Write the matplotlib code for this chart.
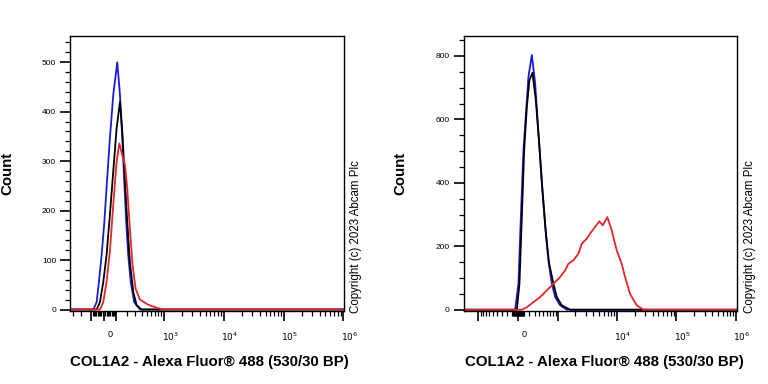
import matplotlib
matplotlib.use("Agg")
import matplotlib.pyplot as plt
from matplotlib.transforms import ScaledTranslation

plt.rcParams['font.family'] = ['Liberation Sans', 'DejaVu Sans']

# ---- left panel: fluorescence (x) vs count (y)
left_blue_x = [-342, -84, -57, -39, -18, 3, 23, 46, 73, 107, 131, 153, 173, 193, 215, 244, 288, 374, 1.02e6]
left_blue_y = [0, 0, 15, 56, 110, 177, 258, 346, 434, 500, 434, 346, 258, 177, 110, 56, 15, 0, 0]
left_black_x = [-342, -57, -31, -5, 20, 46, 73, 101, 131, 153, 180, 204, 234, 276, 322, 401, 1.02e6]
left_black_y = [0, 0, 15, 56, 110, 191, 279, 366, 420, 360, 258, 177, 96, 36, 9, 0, 0]
left_red_x = [-342, -31, -5, 20, 46, 73, 101, 125, 153, 180, 204, 234, 267, 308, 374, 523, 723, 953, 1.02e6]
left_red_y = [0, 0, 15, 56, 117, 211, 299, 336, 312, 292, 245, 164, 90, 42, 20, 10, 4, 0, 0]

# ---- right panel
right_blue_x = [-1810, -52, 5, 46, 92, 140, 182, 246, 313, 386, 467, 556, 645, 756, 874, 1079, 1419, 1.04e6]
right_blue_y = [0, 0, 82, 292, 503, 630, 735, 803, 714, 556, 398, 261, 156, 82, 40, 14, 0, 0]
right_black_x = [-1810, -23, 22, 63, 104, 152, 200, 258, 327, 402, 481, 573, 669, 813, 937, 1158, 1625, 1.04e6]
right_black_y = [0, 0, 82, 292, 503, 640, 724, 747, 661, 524, 377, 240, 145, 82, 40, 14, 0, 0]
right_red_x = [-1810, 63, 152, 278, 425, 598, 813, 1079, 1325, 1516, 1853, 2257, 2575, 3129, 3559, 4325,
               5108, 5817, 6956, 8241, 10000, 12131, 13791, 16723, 21627, 27937, 1.04e6]
right_red_y = [0, 0, 8, 24, 40, 61, 82, 103, 124, 145, 156, 177, 208, 224, 240, 261,
               279, 266, 292, 250, 187, 145, 103, 50, 14, 0, 0]

left_xticks = [-100, 0, 100, 1e3, 1e4, 1e5, 1e6]
left_xlabels = ['', '0', '', '$10^3$', '$10^4$', '$10^5$', '$10^6$']
right_xticks = [-1e3, 0, 1e3, 1e4, 1e5, 1e6]
right_xlabels = ['', '0', '', '$10^4$', '$10^5$', '$10^6$']
left_yticks = [0, 100, 200, 300, 400, 500]
right_yticks = [0, 200, 400, 600, 800]

xlabel = 'COL1A2 - Alexa Fluor® 488 (530/30 BP)'
copyright = 'Copyright (c) 2023 Abcam Plc'

BLUE = '#1c1cd8'
RED = '#e2262a'

fig = plt.figure(figsize=(7.68, 3.84), dpi=100)
ax1 = fig.add_axes([70 / 768, 1 - 311 / 384, 274 / 768, 275 / 384])
ax2 = fig.add_axes([463.5 / 768, 1 - 311 / 384, 273.5 / 768, 275 / 384])


def minor_x(lo, hi, majors):
    out = []
    for n in range(1, 6):
        for m in range(1, 10):
            for v in (m * 10 ** n, -m * 10 ** n):
                if lo < v < hi and v not in majors:
                    out.append(v)
    return out


def setup(ax, lw, xlim, ylim, xticks, xlabels, yticks, yminor):
    ax.set_xscale('asinh', linear_width=lw)
    ax.set_xlim(*xlim)
    ax.set_ylim(*ylim)
    ax.set_xticks(xticks)
    ax.set_xticklabels(xlabels)
    ax.set_xticks(minor_x(xlim[0], xlim[1], xticks), minor=True)
    ax.set_yticks(yticks)
    ax.set_yticks([v for v in range(0, int(ylim[1]), yminor) if v not in yticks], minor=True)
    ax.tick_params(axis='both', which='major', direction='out', length=7, width=1.2,
                   labelsize=6, color='black')
    ax.tick_params(axis='x', which='major', labelsize=6.5, pad=7)
    ax.tick_params(axis='both', which='minor', direction='out', length=3.5, width=0.9)
    ax.tick_params(axis='y', which='major', pad=3)
    for s in ax.spines.values():
        s.set_linewidth(1.0)
    # labels sit a little to the right of their ticks, as in the original export
    off = ScaledTranslation(6 / 100, 0, fig.dpi_scale_trans)
    for lab in ax.get_xticklabels():
        lab.set_transform(lab.get_transform() + off)


ax1.plot(left_blue_x, left_blue_y, color=BLUE, lw=1.3)
ax1.plot(left_black_x, left_black_y, color='black', lw=1.3)
ax1.plot(left_red_x, left_red_y, color=RED, lw=1.3)
setup(ax1, 200, (-342, 1.02e6), (-3, 553), left_xticks, left_xlabels, left_yticks, 20)

ax2.plot(right_blue_x, right_blue_y, color=BLUE, lw=1.3)
ax2.plot(right_black_x, right_black_y, color='black', lw=1.3)
ax2.plot(right_red_x, right_red_y, color=RED, lw=1.3)
setup(ax2, 445, (-1810, 1.04e6), (-4, 863), right_xticks, right_xlabels, right_yticks, 50)

# axis titles and copyright notes
for cx, xx, cr in [(7.5, 209, 355.5), (400.7, 604, 750)]:
    fig.text(cx / 768, 1 - 173 / 384, 'Count', rotation=90, ha='center', va='center',
             fontsize=10.8, fontweight='bold')
    fig.text(xx / 768, 1 - 362 / 384, xlabel, ha='center', va='center',
             fontsize=10.8, fontweight='bold')
    fig.text(cr / 768, 1 - 313 / 384, copyright, rotation=90, ha='center', va='bottom',
             fontsize=8.3)

fig.savefig('out.png', dpi=100)
